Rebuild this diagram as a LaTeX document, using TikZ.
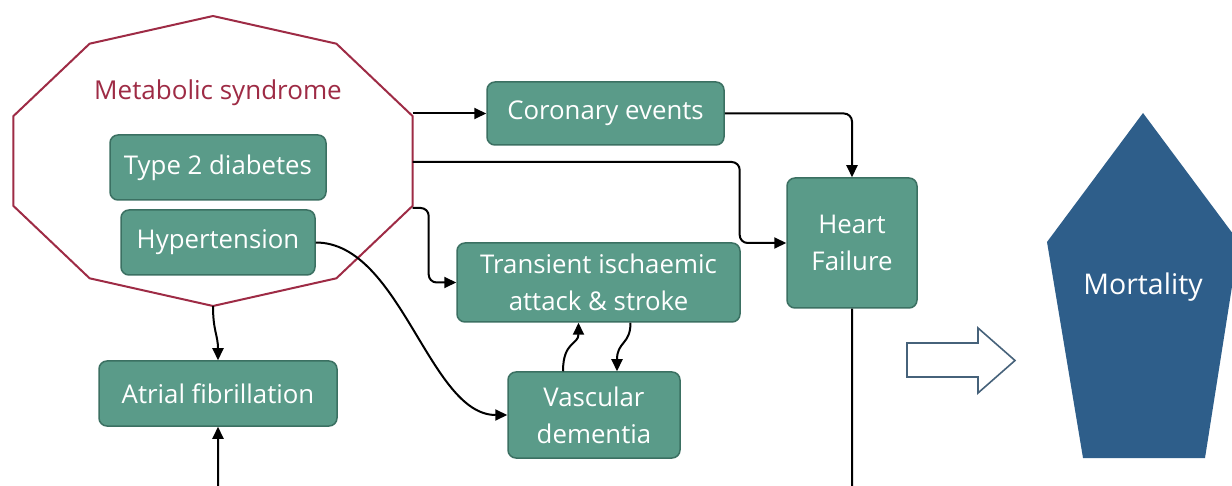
\documentclass[tikz,border=0pt]{standalone}
\usepackage{fontspec}
\setmainfont{Open Sans}
\usetikzlibrary{arrows.meta}
\definecolor{boxfill}{HTML}{5A9B89}
\definecolor{boxline}{HTML}{3B7062}
\definecolor{msred}{HTML}{9E2B45}
\definecolor{mortblue}{HTML}{2E5E8A}
\definecolor{hollowline}{HTML}{46627A}
\begin{document}
\begin{tikzpicture}[x=1pt,y=-1pt,
  box/.style={draw=boxline, line width=1.5pt, fill=boxfill, rounded corners=8pt,
    text=white, font=\fontsize{25.8}{37}\selectfont, align=center, inner sep=0pt},
  conn/.style={line width=2pt, -{Triangle[length=12pt,width=11pt]}, rounded corners=8pt}]
\useasboundingbox (0,0) rectangle (1232,486);
\fill[white] (0,0) rectangle (1232,486);
% metabolic syndrome decagon
\draw[msred, line width=2pt, line join=round]
  (213,16) -- (336.4,43.7) -- (412.7,116.2) -- (412.7,205.8) -- (336.4,278.3)
  -- (213,306) -- (89.6,278.3) -- (13.3,205.8) -- (13.3,116.2) -- (89.6,43.7) -- cycle;
\coordinate (ms1) at (412.7,113.5);
\coordinate (ms2) at (412.7,162);
\coordinate (ms3) at (412.7,208);
\coordinate (ms4) at (213,306);
\node[text=msred, font=\fontsize{26}{30}\selectfont] (mstext) at (218,93) {Metabolic syndrome};
% boxes
\node[box, minimum width=216pt, minimum height=65pt] (t2d) at (218,167.5) {Type 2 diabetes};
\node[box, minimum width=194pt, minimum height=65pt] (ht) at (218,242.5) {Hypertension};
\node[box, minimum width=237pt, minimum height=63pt] (ce) at (605.5,113.5) {Coronary events};
\node[box, minimum width=130pt, minimum height=130pt] (hf) at (852,243) {Heart\\Failure};
\node[box, minimum width=283pt, minimum height=79pt] (tia) at (598.5,282.5) {Transient ischaemic\\attack \& stroke};
\node[box, minimum width=172pt, minimum height=86pt] (vd) at (594,415) {Vascular\\dementia};
\node[box, minimum width=238pt, minimum height=65pt] (af) at (218,393.5) {Atrial fibrillation};
% connectors
\draw[conn] (ms1) -- (ce.west);
\draw[conn] (ce.east) -| (hf.north);
\draw[conn] (ms2) -- ++(327,0) |- (hf.west);
\draw[conn] (ms3) -- ++(16,0) |- (tia.west);
\draw[conn] (ht.east) .. controls +(85,0) and +(-78,0) .. (vd.west);
\draw[conn] (ms4) .. controls +(0,25) and +(0,-25) .. (af.north);
\draw[conn] ([xshift=-31pt]vd.north) .. controls +(0,-30) and +(0,22) .. ([xshift=-20pt]tia.south);
\draw[conn] ([xshift=32pt]tia.south) .. controls +(0,22) and +(0,-30) .. ([xshift=23pt]vd.north);
\draw[conn] (hf.south) -- ++(0,186) -| (af.south);
% hollow arrow
\draw[hollowline, line width=1.6pt, fill=white, line join=miter]
  (907,343) -- (978,343) -- (978,328) -- (1015,360.5) -- (978,393) -- (978,377) -- (907,377) -- cycle;
% mortality pentagon
\fill[mortblue] (1143,113) -- (1239,242) -- (1205,458) -- (1083,458) -- (1047,242) -- cycle;
\node[text=white, font=\fontsize{28.5}{34}\selectfont] (mort) at (1143,287) {Mortality};
\end{tikzpicture}
\end{document}
